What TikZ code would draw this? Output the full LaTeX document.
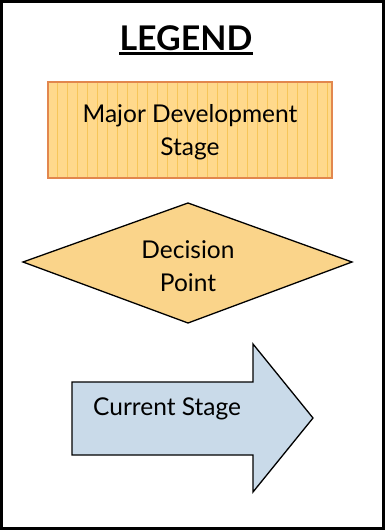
\documentclass[tikz,border=0pt]{standalone}
\usepackage{fontspec}
\setmainfont{Lato}
\usetikzlibrary{shapes.geometric,patterns}
\definecolor{stagefill}{HTML}{FFD98C}
\definecolor{stagestripe}{HTML}{F7C65A}
\definecolor{stageline}{HTML}{E2874E}
\definecolor{decfill}{HTML}{FAD48A}
\definecolor{curfill}{HTML}{C9DAE9}
\tikzset{
  frame/.style={draw=black, line width=2.5pt},
  stagebox/.style={draw=stageline, line width=2pt, fill=stagefill},
  decbox/.style={draw=black, line width=1.3pt, fill=decfill},
  curbox/.style={draw=black, line width=1.3pt, fill=curfill},
  lbl/.style={font=\fontsize{24.5}{32.5}\selectfont, align=center, text=black},
}
\begin{document}
\begin{tikzpicture}[x=1pt,y=-1pt]
\useasboundingbox (0,0) rectangle (385,530);
\draw[frame] (1.5,1.5) rectangle (383.5,528.5);
\node[font=\fontsize{34}{38}\bfseries\selectfont, inner sep=0pt, anchor=base] (title) at (186,50) {LEGEND};
\draw[line width=2.6pt] ([yshift=-3.5pt]title.base west) -- ([yshift=-3.5pt]title.base east);
% major development stage
\draw[stagebox] (48,82) rectangle (332,178);
\foreach \i in {0,...,27} {
  \draw[stagestripe, line width=0.6pt] ({57+10*\i},83) -- ({57+10*\i},177);
}
\coordinate (stagec) at (190,132);
\node[lbl] (stage) at (stagec) {Major Development\\Stage};
% decision
\draw[decbox] (23,262) -- (188,203) -- (352,262) -- (188,323) -- cycle;
\node[lbl] (dec) at (188,266) {Decision\\Point};
% current stage arrow
\draw[curbox] (72,382) -- (253,382) -- (253,344) -- (313,418) -- (253,492) -- (253,455) -- (72,455) -- cycle;
\node[lbl, anchor=west, inner sep=0pt] (cur) at (93,409) {Current Stage};
\end{tikzpicture}
\end{document}
